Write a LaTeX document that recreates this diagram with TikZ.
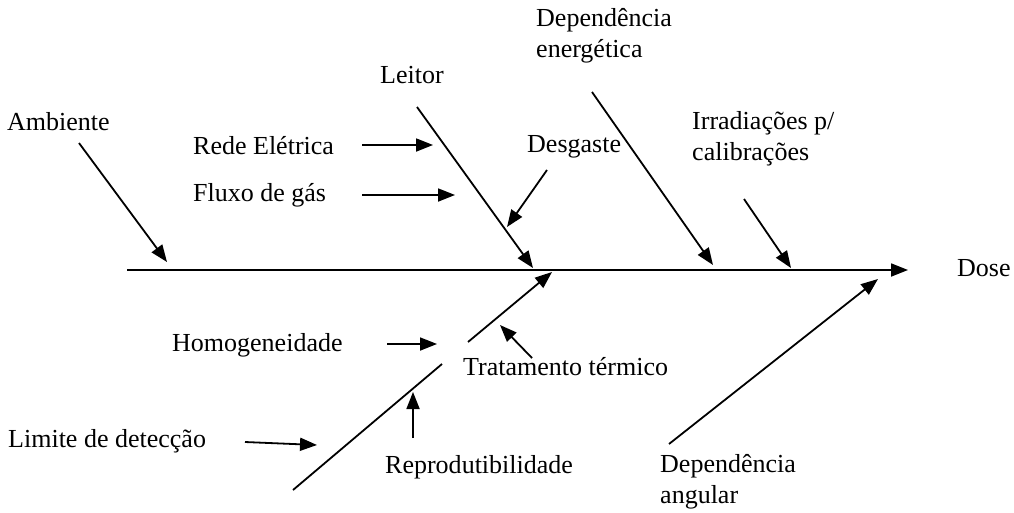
\documentclass[tikz,border=0pt]{standalone}
\usepackage{fontspec}
\setmainfont{Liberation Serif}
\usetikzlibrary{arrows.meta}
\begin{document}
\begin{tikzpicture}[x=1pt,y=-1pt,
  lbl/.style={anchor=west,inner sep=0pt,font=\fontsize{26}{31}\selectfont,align=left},
  bone/.style={line width=1.8pt},
  arr/.style={line width=1.8pt,-{Triangle[length=17pt,width=13pt]}}]
\useasboundingbox (0,0) rectangle (1014,512);
% labels
\node[lbl] (amb) at (7,122) {Ambiente};
\node[lbl] (rede) at (193,146) {Rede Elétrica};
\node[lbl] (fluxo) at (193,195) {Fluxo de gás};
\node[lbl] (leitor) at (380,75) {Leitor};
\node[lbl] (desg) at (527,147) {Desgaste};
\node[lbl] (depen) at (536,36) {Dependência\\energética};
\node[lbl] (irrad) at (692,139) {Irradiações p/\\calibrações};
\node[lbl] (dose) at (957,268) {Dose};
\node[lbl] (homog) at (172,345) {Homogeneidade};
\node[lbl] (trat) at (463,367) {Tratamento térmico};
\node[lbl] (lim) at (8,441) {Limite de detecção};
\node[lbl] (repro) at (385,467) {Reprodutibilidade};
\node[lbl] (depang) at (660,482) {Dependência\\angular};
% coordinates
\coordinate (sp0) at (127,270);
\coordinate (sp1) at (908,270);
\coordinate (amb0) at (79,143);   \coordinate (amb1) at (167,262);
\coordinate (lei0) at (417,107);  \coordinate (lei1) at (533,268);
\coordinate (den0) at (592,92);   \coordinate (den1) at (713,265);
\coordinate (irr0) at (744,199);  \coordinate (irr1) at (791,268);
\coordinate (des0) at (547,170);  \coordinate (des1) at (507,227);
\coordinate (red0) at (362,145);  \coordinate (red1) at (433,145);
\coordinate (flu0) at (362,195);  \coordinate (flu1) at (455,195);
\coordinate (hom0) at (387,344);  \coordinate (hom1) at (437,344);
\coordinate (up0) at (468,342);   \coordinate (up1) at (552,272);
\coordinate (tra0) at (532,358);  \coordinate (tra1) at (500,325);
\coordinate (lo0) at (442,364);   \coordinate (lo1) at (293,490);
\coordinate (rep0) at (413,438);  \coordinate (rep1) at (413,392);
\coordinate (lim0) at (245,442);  \coordinate (lim1) at (317,445);
\coordinate (dan0) at (669,444);  \coordinate (dan1) at (878,279);
% connectors
\draw[arr] (sp0) -- (sp1);
\draw[arr] (amb0) -- (amb1);
\draw[arr] (lei0) -- (lei1);
\draw[arr] (den0) -- (den1);
\draw[arr] (irr0) -- (irr1);
\draw[arr] (des0) -- (des1);
\draw[arr] (red0) -- (red1);
\draw[arr] (flu0) -- (flu1);
\draw[arr] (hom0) -- (hom1);
\draw[arr] (up0) -- (up1);
\draw[arr] (tra0) -- (tra1);
\draw[bone] (lo0) -- (lo1);
\draw[arr] (rep0) -- (rep1);
\draw[arr] (lim0) -- (lim1);
\draw[arr] (dan0) -- (dan1);
\end{tikzpicture}
\end{document}
